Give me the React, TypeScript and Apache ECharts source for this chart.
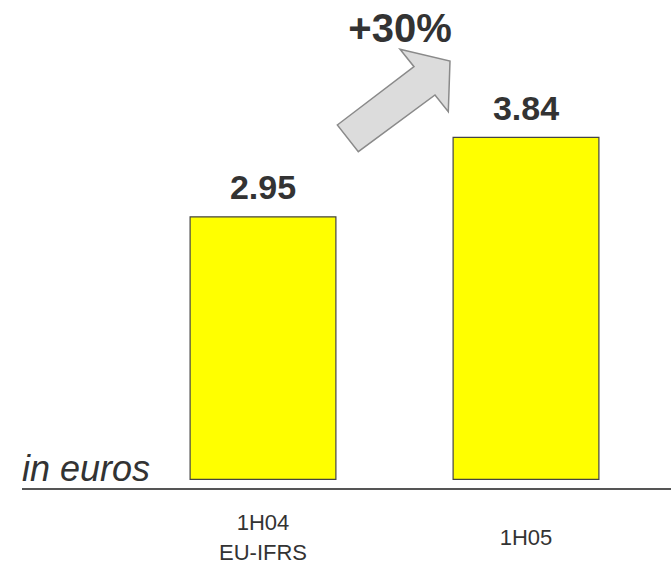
import React, { useEffect, useRef } from "react";
import * as echarts from "echarts";

const categories = ["1H04\nEU-IFRS", "1H05"];
const values = [2.95, 3.84];
const growthLabel = "+30%";
const unitLabel = "in euros";

export default function App() {
  const ref = useRef<HTMLDivElement>(null);
  useEffect(() => {
    if (!ref.current) return;
    const chart = echarts.init(ref.current, null, { renderer: "svg" });
    const font = "'Liberation Sans', Arial, sans-serif";
    chart.setOption({
      animation: false,
      grid: { left: 131.5, right: 13.5, top: 33, bottom: 87 },
      xAxis: {
        type: "category",
        data: categories,
        axisLine: { show: false },
        axisTick: { show: false },
        axisLabel: {
          margin: 57,
          verticalAlign: "middle",
          fontFamily: font,
          fontSize: 22,
          lineHeight: 30,
          color: "#333",
        },
      },
      yAxis: {
        type: "value",
        min: 0,
        max: 5,
        show: false,
        splitLine: { show: false },
      },
      series: [
        {
          type: "bar",
          data: values,
          barWidth: 147,
          itemStyle: { color: "#FFFF00", borderColor: "#444", borderWidth: 1.2 },
          label: {
            show: true,
            position: "top",
            distance: 12,
            fontFamily: font,
            fontSize: 34,
            fontWeight: "bold",
            color: "#333",
            formatter: (p: any) => p.value.toFixed(2),
          },
        },
      ],
      graphic: [
        {
          type: "line",
          shape: { x1: 22, y1: 489, x2: 671, y2: 489 },
          style: { stroke: "#555", lineWidth: 2 },
        },
        {
          type: "text",
          left: 22,
          top: 450,
          style: {
            text: unitLabel,
            fontFamily: font,
            fontSize: 36,
            fontStyle: "italic",
            fill: "#333",
          },
        },
        {
          type: "polygon",
          shape: {
            points: [
              [337.3, 125],
              [414, 66.7],
              [400, 49.3],
              [450, 61],
              [448.3, 111.7],
              [435, 95],
              [358.3, 151.7],
            ],
          },
          style: { fill: "#dcdcdc", stroke: "#8a8a8a", lineWidth: 1.5 },
        },
        {
          type: "text",
          x: 400,
          y: 27.5,
          style: {
            text: growthLabel,
            fontFamily: font,
            fontSize: 40,
            fontWeight: "bold",
            fill: "#333",
            align: "center",
            verticalAlign: "middle",
          },
        },
      ],
    });
    return () => chart.dispose();
  }, []);
  return (
    <div
      ref={ref}
      style={{ position: "absolute", left: 0, top: 0, width: 671, height: 567 }}
    />
  );
}
